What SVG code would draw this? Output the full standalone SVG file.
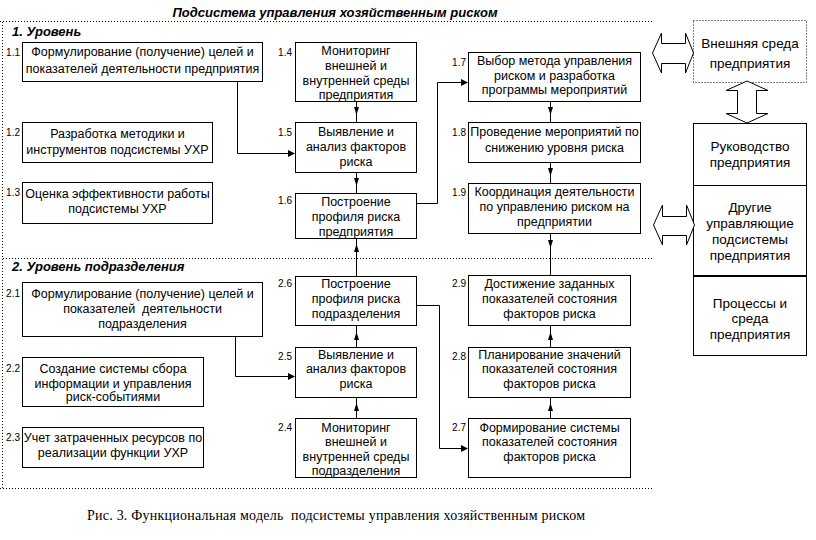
<svg xmlns="http://www.w3.org/2000/svg" width="816" height="540" viewBox="0 0 816 540">
<style>
.box{fill:#fff;stroke:#000;stroke-width:1}
.t{font-family:"Liberation Sans",Arial,sans-serif;font-size:12.5px;text-anchor:middle;fill:#000}
.r{font-family:"Liberation Sans",Arial,sans-serif;font-size:13.5px;text-anchor:middle;fill:#000}
.n{font-family:"Liberation Sans",Arial,sans-serif;font-size:10px;text-anchor:end;fill:#000}
.h{font-family:"Liberation Sans",Arial,sans-serif;font-size:13px;font-weight:bold;font-style:italic;fill:#000}
.cap{font-family:"Liberation Serif","Times New Roman",serif;font-size:14px;fill:#000}
.dot{stroke:#000;stroke-width:1;stroke-dasharray:1 2;fill:none}
.ln{stroke:#000;stroke-width:1;fill:none}
.ah{fill:#000;stroke:none}
.hol{fill:#fff;stroke:#000;stroke-width:1}
</style>

<g id="frame">
<path class="dot" d="M0,21.5 H652 M2.5,22 V488 M3,258.5 H652 M0,488.5 H652"/>
<text class="h" x="335" y="17" text-anchor="middle">Подсистема управления хозяйственным риском</text>
<text class="h" x="12" y="36">1. Уровень</text>
<text class="h" x="12" y="271">2. Уровень подразделения</text>
</g>

<g id="connectors">
<path class="ln" d="M237.5,81.5 V153.5 H290"/>
<polygon class="ah" points="295,153.5 288,150 288,157"/>
<path class="ln" d="M356.5,101.5 V122.5"/>
<polygon class="ah" points="354,107 359,107 356.5,115"/>
<path class="ln" d="M356.5,172.5 V193.5"/>
<polygon class="ah" points="354,178 359,178 356.5,186"/>
<path class="ln" d="M416.5,203.5 H437.5 V82.5 H463"/>
<polygon class="ah" points="468,82.5 461,79 461,86"/>
<path class="ln" d="M550.5,101.5 V122.5"/>
<polygon class="ah" points="548,107 553,107 550.5,115"/>
<path class="ln" d="M550.5,162.5 V183.5"/>
<polygon class="ah" points="548,168 553,168 550.5,176"/>
<path class="ln" d="M356.5,238.5 V276.5"/>
<polygon class="ah" points="354,252 359,252 356.5,244"/>
<path class="ln" d="M550.5,233.5 V275.5"/>
<polygon class="ah" points="548,240 553,240 550.5,248"/>
<path class="ln" d="M235.5,336.5 V376.5 H290"/>
<polygon class="ah" points="295,376.5 288,373 288,380"/>
<path class="ln" d="M416.5,305.5 H439.5 V448.5 H463"/>
<polygon class="ah" points="468,448.5 461,445 461,452"/>
<path class="ln" d="M356.5,325.5 V347.5"/>
<polygon class="ah" points="354,340 359,340 356.5,332"/>
<path class="ln" d="M356.5,397.5 V418.5"/>
<polygon class="ah" points="354,411 359,411 356.5,403"/>
<path class="ln" d="M550.5,325.5 V347.5"/>
<polygon class="ah" points="548,340 553,340 550.5,332"/>
<path class="ln" d="M550.5,397.5 V418.5"/>
<polygon class="ah" points="548,411 553,411 550.5,403"/>
</g>

<g id="n1_1">
<rect class="box" x="22.5" y="42.5" width="240" height="39"/>
<text class="n" x="20" y="56">1.1</text>
<text class="t" x="142.5" y="56">Формулирование (получение) целей и</text>
<text class="t" x="142.5" y="72.5">показателей деятельности предприятия</text>
</g>
<g id="n1_2">
<rect class="box" x="22.5" y="122.5" width="190" height="40"/>
<text class="n" x="20" y="136">1.2</text>
<text class="t" x="117.5" y="137.5">Разработка методики и</text>
<text class="t" x="117.5" y="153.5">инструментов подсистемы УХР</text>
</g>
<g id="n1_3">
<rect class="box" x="22.5" y="182.5" width="190" height="41"/>
<text class="n" x="20" y="196">1.3</text>
<text class="t" x="117.5" y="197.5">Оценка эффективности работы</text>
<text class="t" x="117.5" y="212.5">подсистемы УХР</text>
</g>
<g id="n1_4">
<rect class="box" x="295.5" y="42.5" width="121" height="59"/>
<text class="n" x="292" y="56">1.4</text>
<text class="t" x="356" y="54.5">Мониторинг</text>
<text class="t" x="356" y="69.5">внешней и</text>
<text class="t" x="356" y="84.5">внутренней среды</text>
<text class="t" x="356" y="98.5">предприятия</text>
</g>
<g id="n1_5">
<rect class="box" x="295.5" y="122.5" width="121" height="50"/>
<text class="n" x="292" y="136">1.5</text>
<text class="t" x="356" y="135.5">Выявление и</text>
<text class="t" x="356" y="150.5">анализ факторов</text>
<text class="t" x="356" y="165.5">риска</text>
</g>
<g id="n1_6">
<rect class="box" x="295.5" y="193.5" width="121" height="45"/>
<text class="n" x="292" y="204">1.6</text>
<text class="t" x="356" y="206">Построение</text>
<text class="t" x="356" y="221">профиля риска</text>
<text class="t" x="356" y="235.5">предприятия</text>
</g>
<g id="n1_7">
<rect class="box" x="468.5" y="52.5" width="172" height="49"/>
<text class="n" x="466" y="66">1.7</text>
<text class="t" x="554.5" y="65">Выбор метода управления</text>
<text class="t" x="554.5" y="79.5">риском и разработка</text>
<text class="t" x="554.5" y="94">программы мероприятий</text>
</g>
<g id="n1_8">
<rect class="box" x="468.5" y="122.5" width="172" height="40"/>
<text class="n" x="466" y="136">1.8</text>
<text class="t" x="554.5" y="136">Проведение мероприятий по</text>
<text class="t" x="554.5" y="151.5">снижению уровня риска</text>
</g>
<g id="n1_9">
<rect class="box" x="468.5" y="183.5" width="172" height="50"/>
<text class="n" x="466" y="196">1.9</text>
<text class="t" x="554.5" y="196">Координация деятельности</text>
<text class="t" x="554.5" y="211">по управлению риском на</text>
<text class="t" x="554.5" y="226">предприятии</text>
</g>

<g id="n2_1">
<rect class="box" x="22.5" y="282.5" width="240" height="54"/>
<text class="n" x="20" y="297">2.1</text>
<text class="t" x="142.5" y="297.5">Формулирование (получение) целей и</text>
<text class="t" x="142.5" y="312.5">показателей&#160; деятельности</text>
<text class="t" x="142.5" y="327.5">подразделения</text>
</g>
<g id="n2_2">
<rect class="box" x="22.5" y="357.5" width="181" height="49"/>
<text class="n" x="20" y="372">2.2</text>
<text class="t" x="113" y="372.5">Создание системы сбора</text>
<text class="t" x="113" y="387.5">информации и управления</text>
<text class="t" x="113" y="401">риск-событиями</text>
</g>
<g id="n2_3">
<rect class="box" x="22.5" y="427.5" width="181" height="40"/>
<text class="n" x="20" y="441">2.3</text>
<text class="t" x="113" y="441.5">Учет затраченных ресурсов по</text>
<text class="t" x="113" y="456.5">реализации функции УХР</text>
</g>
<g id="n2_6">
<rect class="box" x="295.5" y="276.5" width="121" height="49"/>
<text class="n" x="292" y="287">2.6</text>
<text class="t" x="356" y="287.5">Построение</text>
<text class="t" x="356" y="302.5">профиля риска</text>
<text class="t" x="356" y="317.5">подразделения</text>
</g>
<g id="n2_5">
<rect class="box" x="295.5" y="347.5" width="121" height="50"/>
<text class="n" x="292" y="360">2.5</text>
<text class="t" x="356" y="358.5">Выявление и</text>
<text class="t" x="356" y="373">анализ факторов</text>
<text class="t" x="356" y="388">риска</text>
</g>
<g id="n2_4">
<rect class="box" x="295.5" y="418.5" width="121" height="59"/>
<text class="n" x="292" y="431">2.4</text>
<text class="t" x="356" y="431.5">Мониторинг</text>
<text class="t" x="356" y="446">внешней и</text>
<text class="t" x="356" y="460.5">внутренней среды</text>
<text class="t" x="356" y="475">подразделения</text>
</g>
<g id="n2_9">
<rect class="box" x="468.5" y="275.5" width="162" height="50"/>
<text class="n" x="466" y="287">2.9</text>
<text class="t" x="549.5" y="287.5">Достижение заданных</text>
<text class="t" x="549.5" y="302.5">показателей состояния</text>
<text class="t" x="549.5" y="317.5">факторов риска</text>
</g>
<g id="n2_8">
<rect class="box" x="468.5" y="347.5" width="162" height="50"/>
<text class="n" x="466" y="360">2.8</text>
<text class="t" x="549.5" y="358.5">Планирование значений</text>
<text class="t" x="549.5" y="373">показателей состояния</text>
<text class="t" x="549.5" y="388">факторов риска</text>
</g>
<g id="n2_7">
<rect class="box" x="468.5" y="418.5" width="162" height="59"/>
<text class="n" x="466" y="431">2.7</text>
<text class="t" x="549.5" y="431.5">Формирование системы</text>
<text class="t" x="549.5" y="446">показателей состояния</text>
<text class="t" x="549.5" y="460.5">факторов риска</text>
</g>

<g id="ext">
<rect x="693.5" y="20.5" width="113" height="62" fill="#fff" class="dot"/>
<text class="r" x="750" y="48">Внешняя среда</text>
<text class="r" x="750" y="68">предприятия</text>
</g>
<g id="stack">
<rect class="box" x="693.5" y="123.5" width="113" height="232"/>
<path class="ln" d="M693.5,185.5 H806.5"/>
<path d="M693.5,276 H806.5" stroke="#000" stroke-width="2"/>
<text class="r" x="750" y="150.5">Руководство</text>
<text class="r" x="750" y="166.5">предприятия</text>
<text class="r" x="750" y="212">Другие</text>
<text class="r" x="750" y="228">управляющие</text>
<text class="r" x="750" y="244">подсистемы</text>
<text class="r" x="750" y="260">предприятия</text>
<text class="r" x="750" y="307.5">Процессы и</text>
<text class="r" x="750" y="323">среда</text>
<text class="r" x="750" y="339">предприятия</text>
</g>
<g id="arrows_big">
<path class="hol" d="M652.5,53 L661.5,33 L661.5,43.5 L685.5,43.5 L685.5,33 L693.5,53 L685.5,73 L685.5,63.5 L661.5,63.5 L661.5,73 Z"/>
<path class="hol" d="M747,81 L768,90.5 L756.5,90.5 L756.5,113.5 L768,113.5 L747,123 L726,113.5 L737.5,113.5 L737.5,90.5 L726,90.5 Z"/>
<path class="hol" d="M653.5,225 L662.5,205 L662.5,216.5 L686.5,216.5 L686.5,205 L694.5,225 L686.5,245 L686.5,235.5 L662.5,235.5 L662.5,245 Z"/>
</g>

<text class="cap" x="87" y="520" textLength="498" lengthAdjust="spacing">Рис. 3. Функциональная модель&#160; подсистемы управления хозяйственным риском</text>
</svg>
